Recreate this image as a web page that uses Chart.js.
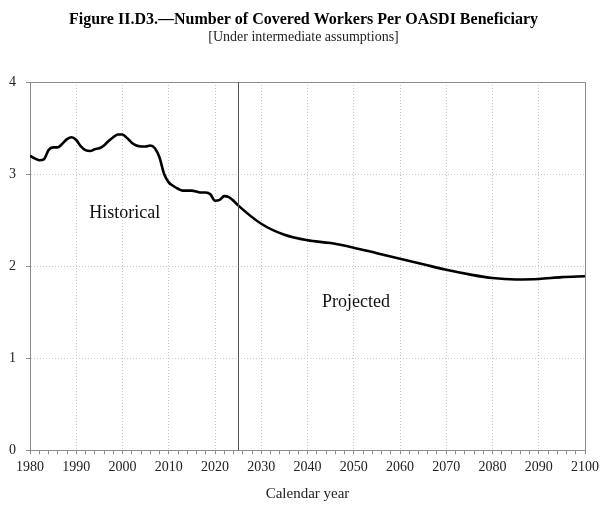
<!DOCTYPE html>
<html>
<head>
<meta charset="utf-8">
<script src="https://cdn.jsdelivr.net/npm/chart.js@4/dist/chart.umd.min.js"></script>
<style>
html,body{margin:0;padding:0;background:#fff;}
#wrap{width:607px;height:508px;}
</style>
</head>
<body>
<div id="wrap"><canvas id="c" width="607" height="508"></canvas></div>
<script>
const histYears = [1980,1981,1982,1983,1984,1985,1986,1987,1988,1989,1990,1991,1992,1993,1994,1995,1996,1997,1998,1999,2000,2001,2002,2003,2004,2005,2006,2007,2008,2009,2010,2011,2012,2013,2014,2015,2016,2017,2018,2019,2020,2021,2022,2023,2024,2025];
const histValues = [3.20,3.17,3.15,3.16,3.26,3.29,3.29,3.33,3.38,3.40,3.37,3.30,3.26,3.25,3.27,3.28,3.31,3.36,3.40,3.43,3.43,3.39,3.34,3.31,3.30,3.30,3.31,3.28,3.18,3.00,2.91,2.87,2.84,2.82,2.82,2.82,2.81,2.80,2.80,2.78,2.71,2.72,2.76,2.75,2.71,2.66];
const projYears = [2030,2035,2040,2045,2050,2055,2060,2065,2070,2075,2080,2085,2090,2095,2100];
const projValues = [2.46,2.34,2.28,2.25,2.20,2.14,2.08,2.02,1.96,1.91,1.87,1.855,1.86,1.88,1.89];
const yTicks = [0,1,2,3,4];
const xLabelYears = [1980,1990,2000,2010,2020,2030,2040,2050,2060,2070,2080,2090,2100];
const dividerYear = 2025;
const annotations = [
  {text:'Historical', x:2000.5, y:2.57},
  {text:'Projected', x:2050.5, y:1.61}
];

const allYears = histYears.concat(projYears);
const allValues = histValues.concat(projValues);
const points = allYears.map((y,i)=>({x:y, y:allValues[i]}));

const serif = "'Liberation Serif', 'DejaVu Serif', serif";

const framePlugin = {
  id:'frame',
  afterDatasetsDraw(chart){
    const {ctx, chartArea:a, scales:{x,y}} = chart;
    ctx.save();
    ctx.strokeStyle = '#8c8c8c';
    ctx.lineWidth = 1;
    ctx.setLineDash([]);
    ctx.beginPath();
    ctx.moveTo(a.left+0.5, a.top+0.5);
    ctx.lineTo(Math.round(a.right)+0.5, a.top+0.5);
    ctx.lineTo(Math.round(a.right)+0.5, a.bottom);
    ctx.stroke();
    const dx = Math.round(x.getPixelForValue(dividerYear))+0.5;
    ctx.strokeStyle = '#555';
    ctx.beginPath();
    ctx.moveTo(dx, a.top);
    ctx.lineTo(dx, a.bottom);
    ctx.stroke();
    ctx.fillStyle = '#111';
    ctx.font = "18px " + serif;
    ctx.textAlign = 'center';
    ctx.textBaseline = 'middle';
    annotations.forEach(an=>{
      ctx.fillText(an.text, x.getPixelForValue(an.x), y.getPixelForValue(an.y));
    });
    ctx.restore();
  }
};

new Chart(document.getElementById('c'), {
  type:'line',
  data:{datasets:[{
    data:points,
    borderColor:'#000',
    borderWidth:2.6,
    pointRadius:0,
    fill:false,
    cubicInterpolationMode:'monotone'
  }]},
  options:{
    responsive:false,
    animation:false,
    devicePixelRatio:1,
    layout:{padding:{left:0,right:0,top:0,bottom:5}},
    plugins:{
      legend:{display:false},
      tooltip:{enabled:false},
      title:{display:true,text:'Figure II.D3.—Number of Covered Workers Per OASDI Beneficiary',
        color:'#000',font:{family:serif,size:16,weight:'bold'},padding:{top:10,bottom:0}},
      subtitle:{display:true,text:'[Under intermediate assumptions]',
        color:'#222',font:{family:serif,size:14},padding:{top:0,bottom:36}}
    },
    scales:{
      x:{
        type:'linear', min:1980, max:2100,
        afterBuildTicks(scale){
          const t=[]; for(let v=1980; v<=2100; v+=2) t.push({value:v}); scale.ticks=t;
        },
        ticks:{
          autoSkip:false, maxRotation:0, color:'#222',
          font:{family:serif,size:14}, padding:5,
          callback:(v)=> xLabelYears.includes(v) ? String(v) : ''
        },
        grid:{
          color:(c)=> (c.tick && xLabelYears.includes(c.tick.value) && c.tick.value!==2100) ? '#c8c8c8' : 'rgba(0,0,0,0)',
          tickColor:'#8c8c8c', tickLength:4, drawTicks:true, tickBorderDash:[], lineWidth:1
        },
        border:{display:true,color:'#8c8c8c',dash:[1,2]},
        title:{display:true,text:'Calendar year',color:'#222',font:{family:serif,size:15},padding:{top:4,bottom:0}}
      },
      y:{
        min:0, max:4,
        afterBuildTicks(scale){ scale.ticks = yTicks.map(v=>({value:v})); },
        afterFit(scale){ scale.width = 30; },
        ticks:{color:'#222',font:{family:serif,size:14},padding:10},
        grid:{color:(c)=> (c.tick && c.tick.value===4) ? 'rgba(0,0,0,0)' : '#c8c8c8', tickLength:4, tickColor:'#8c8c8c', tickBorderDash:[]},
        border:{display:true,color:'#8c8c8c',dash:[1,2]}
      },
      yRight:{
        position:'right', min:0, max:4, display:true,
        afterFit(scale){ scale.width = 22; },
        ticks:{display:false},
        grid:{display:false, drawOnChartArea:false},
        border:{display:false}
      }
    }
  },
  plugins:[framePlugin]
});
</script>
</body>
</html>
